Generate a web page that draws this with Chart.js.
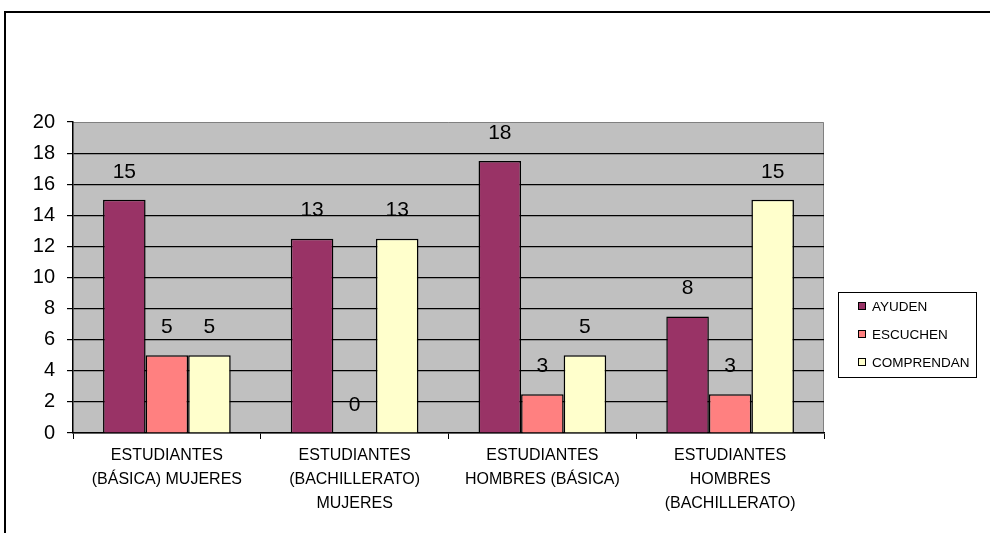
<!DOCTYPE html>
<html>
<head>
<meta charset="utf-8">
<script src="https://cdn.jsdelivr.net/npm/chart.js@4.4.1/dist/chart.umd.min.js"></script>
<style>
  html, body { margin: 0; padding: 0; background: #fff; }
  #wrap { position: relative; width: 990px; height: 533px; }
</style>
</head>
<body>
<div id="wrap"><canvas id="c" width="990" height="533"></canvas></div>
<script>
const categories = [
  ['ESTUDIANTES', '(BÁSICA) MUJERES'],
  ['ESTUDIANTES', '(BACHILLERATO)', 'MUJERES'],
  ['ESTUDIANTES', 'HOMBRES (BÁSICA)'],
  ['ESTUDIANTES', 'HOMBRES', '(BACHILLERATO)']
];
const ayuden = [15, 12.5, 17.5, 7.5];
const escuchen = [5, 0, 2.5, 2.5];
const comprendan = [5, 12.5, 5, 15];
const seriesNames = ['AYUDEN', 'ESCUCHEN', 'COMPRENDAN'];
const seriesColors = ['#993366', '#FF8080', '#FFFFCC'];

const font = 'Arial, "Liberation Sans", sans-serif';

// frame, plot background, value labels and the boxed legend
const extras = {
  id: 'extras',
  beforeDraw(chart) {
    const ctx = chart.ctx, a = chart.chartArea;
    ctx.save();
    ctx.fillStyle = '#fff';
    ctx.fillRect(0, 0, chart.width, chart.height);
    ctx.fillStyle = '#C0C0C0';
    ctx.fillRect(a.left, a.top, a.right - a.left, a.bottom - a.top);
    ctx.strokeStyle = '#808080';
    ctx.lineWidth = 1;
    ctx.beginPath();
    ctx.moveTo(a.left, a.top + 0.5);
    ctx.lineTo(a.right - 0.5, a.top + 0.5);
    ctx.lineTo(a.right - 0.5, a.bottom);
    ctx.stroke();
    // outer frame
    ctx.strokeStyle = '#000';
    ctx.lineWidth = 2;
    ctx.beginPath();
    ctx.moveTo(5, chart.height);
    ctx.lineTo(5, 12);
    ctx.lineTo(chart.width, 12);
    ctx.stroke();
    ctx.restore();
  },
  afterDatasetsDraw(chart) {
    const ctx = chart.ctx;
    ctx.save();
    ctx.font = '21px ' + font;
    ctx.fillStyle = '#000';
    ctx.textAlign = 'center';
    ctx.textBaseline = 'middle';
    chart.data.datasets.forEach((ds, i) => {
      chart.getDatasetMeta(i).data.forEach((bar, j) => {
        ctx.fillText(String(Math.round(ds.data[j])), bar.x, bar.y - 28);
      });
    });
    // legend
    const lx = 838, ly = 292, lw = 138, lh = 85;
    ctx.fillStyle = '#fff';
    ctx.fillRect(lx, ly, lw, lh);
    ctx.strokeStyle = '#000';
    ctx.lineWidth = 1;
    ctx.strokeRect(lx + 0.5, ly + 0.5, lw, lh);
    ctx.font = '13.5px ' + font;
    ctx.textAlign = 'left';
    seriesNames.forEach((name, i) => {
      const y = ly + 14 + i * 28;
      ctx.fillStyle = seriesColors[i];
      ctx.fillRect(858, y - 4, 8, 8);
      ctx.strokeRect(858.5, y - 3.5, 7, 7);
      ctx.fillStyle = '#000';
      ctx.fillText(name, 872, y + 1);
    });
    ctx.restore();
  }
};

new Chart(document.getElementById('c'), {
  type: 'bar',
  data: {
    labels: categories,
    datasets: [
      { label: seriesNames[0], data: ayuden },
      { label: seriesNames[1], data: escuchen },
      { label: seriesNames[2], data: comprendan }
    ].map((d, i) => Object.assign(d, {
      backgroundColor: seriesColors[i],
      borderColor: '#000',
      borderWidth: 1.5,
      categoryPercentage: 0.68,
      barPercentage: 1
    }))
  },
  options: {
    responsive: false,
    animation: false,
    layout: { padding: { left: 20, right: 166, top: 122, bottom: 0 } },
    plugins: { legend: { display: false }, tooltip: { enabled: false } },
    scales: {
      x: {
        grid: { display: true, drawOnChartArea: false, color: '#000', tickLength: 6, offset: true },
        border: { color: '#000', width: 1.5 },
        ticks: { color: '#000', font: { family: font, size: 16, lineHeight: 1.48 }, padding: 5, maxRotation: 0, autoSkip: false },
        afterFit(s) { s.height = 100; }
      },
      y: {
        min: 0, max: 20,
        grid: {
          color: ctx => ctx.tick && ctx.tick.value === 20 ? 'rgba(0,0,0,0)' : '#000',
          lineWidth: 1.2,
          tickLength: 6,
          tickColor: '#000'
        },
        border: { color: '#000', width: 1.5 },
        ticks: { stepSize: 2, color: '#000', font: { family: font, size: 20 }, padding: 12 },
        afterFit(s) { s.width = 53; }
      }
    }
  },
  plugins: [extras]
});
</script>
</body>
</html>
